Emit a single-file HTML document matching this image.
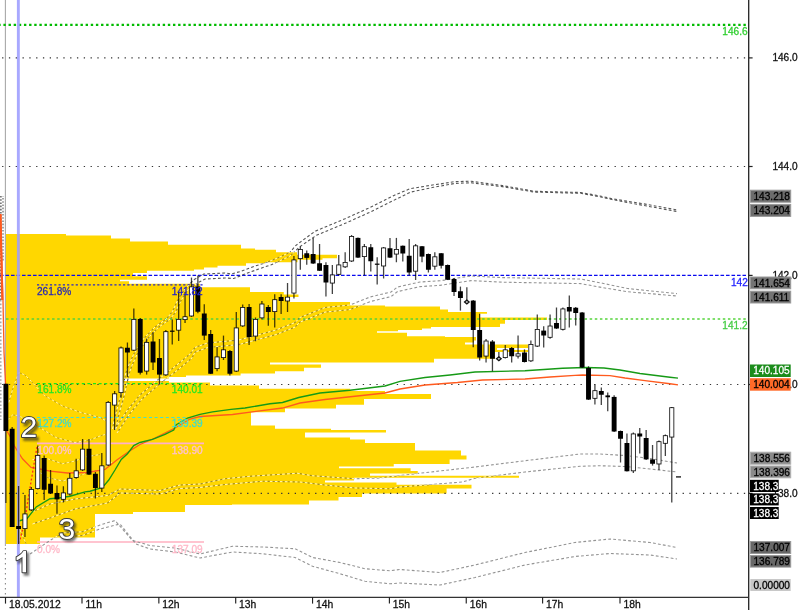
<!DOCTYPE html>
<html><head><meta charset="utf-8"><title>chart</title>
<style>
html,body{margin:0;padding:0;background:#fff;}
body{width:800px;height:610px;overflow:hidden;}
svg{display:block;will-change:transform;font-family:"Liberation Sans",sans-serif;font-size:10.1px;}
.big{font-size:30px;fill:#fff;stroke:#3c3c3c;stroke-width:1.9px;paint-order:stroke fill;stroke-linejoin:round;}
.bigs{font-size:30px;fill:#222;stroke:#222;stroke-width:2px;opacity:.6;filter:url(#bl);}
</style></head><body>
<svg width="800" height="610" viewBox="0 0 800 610">
<defs><filter id="bl" x="-30%" y="-30%" width="160%" height="160%"><feGaussianBlur stdDeviation="1.3"/></filter>
<clipPath id="cy"><path d="M6.00 234.00 L66.00 234.00 L66.00 235.50 L111.00 235.50 L111.00 238.50 L130.00 238.50 L130.00 241.50 L168.00 241.50 L168.00 244.75 L241.00 244.75 L241.00 248.50 L255.00 248.50 L255.00 249.75 L276.00 249.75 L276.00 252.25 L297.00 252.25 L297.00 254.75 L337.00 254.75 L337.00 258.25 L322.50 258.25 L322.50 259.75 L297.50 259.75 L297.50 262.25 L265.00 262.25 L265.00 263.25 L246.00 263.25 L246.00 265.75 L217.50 265.75 L217.50 267.60 L204.00 267.60 L204.00 269.50 L194.00 269.50 L194.00 270.75 L147.00 270.75 L147.00 273.00 L133.00 273.00 L133.00 276.25 L147.00 276.25 L147.00 279.75 L120.00 279.75 L120.00 281.25 L129.00 281.25 L129.00 283.75 L200.00 283.75 L200.00 287.25 L250.00 287.25 L250.00 292.10 L283.75 292.10 L283.75 294.40 L298.50 294.40 L298.50 296.90 L290.00 296.90 L290.00 301.90 L350.00 301.90 L350.00 305.50 L385.00 305.50 L385.00 306.50 L440.00 306.50 L440.00 309.40 L448.00 309.40 L448.00 311.90 L487.00 311.90 L487.00 313.75 L480.00 313.75 L480.00 317.50 L547.00 317.50 L547.00 320.00 L505.00 320.00 L505.00 323.75 L500.00 323.75 L500.00 326.90 L431.00 326.90 L431.00 328.50 L422.00 328.50 L422.00 330.00 L398.00 330.00 L398.00 331.25 L377.00 331.25 L377.00 332.75 L407.00 332.75 L407.00 336.25 L445.00 336.25 L445.00 337.00 L476.00 337.00 L476.00 340.60 L474.00 340.60 L474.00 342.50 L465.00 342.50 L465.00 344.40 L528.00 344.40 L528.00 348.00 L497.00 348.00 L497.00 350.00 L528.00 350.00 L528.00 352.00 L495.00 352.00 L495.00 358.75 L434.00 358.75 L434.00 362.40 L270.00 362.40 L270.00 364.40 L321.00 364.40 L321.00 367.75 L304.00 367.75 L304.00 371.25 L275.00 371.25 L275.00 373.50 L240.60 373.50 L240.60 375.60 L186.00 375.60 L186.00 376.90 L169.00 376.90 L169.00 378.50 L124.00 378.50 L124.00 381.10 L169.00 381.10 L169.00 382.50 L210.00 382.50 L210.00 385.60 L259.00 385.60 L259.00 388.75 L350.00 388.75 L350.00 391.00 L385.00 391.00 L385.00 394.00 L431.00 394.00 L431.00 399.00 L364.00 399.00 L364.00 404.75 L336.00 404.75 L336.00 408.50 L285.00 408.50 L285.00 412.25 L251.00 412.25 L251.00 425.50 L275.00 425.50 L275.00 428.75 L331.00 428.75 L331.00 430.00 L386.00 430.00 L386.00 432.50 L305.00 432.50 L305.00 437.50 L350.00 437.50 L350.00 439.50 L365.00 439.50 L365.00 443.00 L415.00 443.00 L415.00 450.50 L461.00 450.50 L461.00 455.60 L466.50 455.60 L466.50 459.40 L449.60 459.40 L449.60 464.00 L393.75 464.00 L393.75 466.50 L339.00 466.50 L339.00 468.20 L410.60 468.20 L410.60 471.00 L417.75 471.00 L417.75 473.40 L370.00 473.40 L370.00 475.70 L519.00 475.70 L519.00 477.75 L354.00 477.75 L354.00 480.50 L325.00 480.50 L325.00 482.50 L396.50 482.50 L396.50 484.75 L471.50 484.75 L471.50 488.50 L446.60 488.50 L446.60 493.50 L362.00 493.50 L362.00 497.00 L338.50 497.00 L338.50 500.50 L309.00 500.50 L309.00 504.50 L232.00 504.50 L232.00 505.00 L185.00 505.00 L185.00 512.00 L133.00 512.00 L133.00 514.00 L95.00 514.00 L95.00 537.50 L40.00 537.50 L40.00 544.00 L6.00 544.00Z"/></clipPath><mask id="my"><rect x="0" y="0" width="800" height="610" fill="#fff"/><path d="M6.00 234.00 L66.00 234.00 L66.00 235.50 L111.00 235.50 L111.00 238.50 L130.00 238.50 L130.00 241.50 L168.00 241.50 L168.00 244.75 L241.00 244.75 L241.00 248.50 L255.00 248.50 L255.00 249.75 L276.00 249.75 L276.00 252.25 L297.00 252.25 L297.00 254.75 L337.00 254.75 L337.00 258.25 L322.50 258.25 L322.50 259.75 L297.50 259.75 L297.50 262.25 L265.00 262.25 L265.00 263.25 L246.00 263.25 L246.00 265.75 L217.50 265.75 L217.50 267.60 L204.00 267.60 L204.00 269.50 L194.00 269.50 L194.00 270.75 L147.00 270.75 L147.00 273.00 L133.00 273.00 L133.00 276.25 L147.00 276.25 L147.00 279.75 L120.00 279.75 L120.00 281.25 L129.00 281.25 L129.00 283.75 L200.00 283.75 L200.00 287.25 L250.00 287.25 L250.00 292.10 L283.75 292.10 L283.75 294.40 L298.50 294.40 L298.50 296.90 L290.00 296.90 L290.00 301.90 L350.00 301.90 L350.00 305.50 L385.00 305.50 L385.00 306.50 L440.00 306.50 L440.00 309.40 L448.00 309.40 L448.00 311.90 L487.00 311.90 L487.00 313.75 L480.00 313.75 L480.00 317.50 L547.00 317.50 L547.00 320.00 L505.00 320.00 L505.00 323.75 L500.00 323.75 L500.00 326.90 L431.00 326.90 L431.00 328.50 L422.00 328.50 L422.00 330.00 L398.00 330.00 L398.00 331.25 L377.00 331.25 L377.00 332.75 L407.00 332.75 L407.00 336.25 L445.00 336.25 L445.00 337.00 L476.00 337.00 L476.00 340.60 L474.00 340.60 L474.00 342.50 L465.00 342.50 L465.00 344.40 L528.00 344.40 L528.00 348.00 L497.00 348.00 L497.00 350.00 L528.00 350.00 L528.00 352.00 L495.00 352.00 L495.00 358.75 L434.00 358.75 L434.00 362.40 L270.00 362.40 L270.00 364.40 L321.00 364.40 L321.00 367.75 L304.00 367.75 L304.00 371.25 L275.00 371.25 L275.00 373.50 L240.60 373.50 L240.60 375.60 L186.00 375.60 L186.00 376.90 L169.00 376.90 L169.00 378.50 L124.00 378.50 L124.00 381.10 L169.00 381.10 L169.00 382.50 L210.00 382.50 L210.00 385.60 L259.00 385.60 L259.00 388.75 L350.00 388.75 L350.00 391.00 L385.00 391.00 L385.00 394.00 L431.00 394.00 L431.00 399.00 L364.00 399.00 L364.00 404.75 L336.00 404.75 L336.00 408.50 L285.00 408.50 L285.00 412.25 L251.00 412.25 L251.00 425.50 L275.00 425.50 L275.00 428.75 L331.00 428.75 L331.00 430.00 L386.00 430.00 L386.00 432.50 L305.00 432.50 L305.00 437.50 L350.00 437.50 L350.00 439.50 L365.00 439.50 L365.00 443.00 L415.00 443.00 L415.00 450.50 L461.00 450.50 L461.00 455.60 L466.50 455.60 L466.50 459.40 L449.60 459.40 L449.60 464.00 L393.75 464.00 L393.75 466.50 L339.00 466.50 L339.00 468.20 L410.60 468.20 L410.60 471.00 L417.75 471.00 L417.75 473.40 L370.00 473.40 L370.00 475.70 L519.00 475.70 L519.00 477.75 L354.00 477.75 L354.00 480.50 L325.00 480.50 L325.00 482.50 L396.50 482.50 L396.50 484.75 L471.50 484.75 L471.50 488.50 L446.60 488.50 L446.60 493.50 L362.00 493.50 L362.00 497.00 L338.50 497.00 L338.50 500.50 L309.00 500.50 L309.00 504.50 L232.00 504.50 L232.00 505.00 L185.00 505.00 L185.00 512.00 L133.00 512.00 L133.00 514.00 L95.00 514.00 L95.00 537.50 L40.00 537.50 L40.00 544.00 L6.00 544.00Z" fill="#000"/></mask>
</defs>
<rect width="800" height="610" fill="#fff"/>
<path d="M6.00 234.00 L66.00 234.00 L66.00 235.50 L111.00 235.50 L111.00 238.50 L130.00 238.50 L130.00 241.50 L168.00 241.50 L168.00 244.75 L241.00 244.75 L241.00 248.50 L255.00 248.50 L255.00 249.75 L276.00 249.75 L276.00 252.25 L297.00 252.25 L297.00 254.75 L337.00 254.75 L337.00 258.25 L322.50 258.25 L322.50 259.75 L297.50 259.75 L297.50 262.25 L265.00 262.25 L265.00 263.25 L246.00 263.25 L246.00 265.75 L217.50 265.75 L217.50 267.60 L204.00 267.60 L204.00 269.50 L194.00 269.50 L194.00 270.75 L147.00 270.75 L147.00 273.00 L133.00 273.00 L133.00 276.25 L147.00 276.25 L147.00 279.75 L120.00 279.75 L120.00 281.25 L129.00 281.25 L129.00 283.75 L200.00 283.75 L200.00 287.25 L250.00 287.25 L250.00 292.10 L283.75 292.10 L283.75 294.40 L298.50 294.40 L298.50 296.90 L290.00 296.90 L290.00 301.90 L350.00 301.90 L350.00 305.50 L385.00 305.50 L385.00 306.50 L440.00 306.50 L440.00 309.40 L448.00 309.40 L448.00 311.90 L487.00 311.90 L487.00 313.75 L480.00 313.75 L480.00 317.50 L547.00 317.50 L547.00 320.00 L505.00 320.00 L505.00 323.75 L500.00 323.75 L500.00 326.90 L431.00 326.90 L431.00 328.50 L422.00 328.50 L422.00 330.00 L398.00 330.00 L398.00 331.25 L377.00 331.25 L377.00 332.75 L407.00 332.75 L407.00 336.25 L445.00 336.25 L445.00 337.00 L476.00 337.00 L476.00 340.60 L474.00 340.60 L474.00 342.50 L465.00 342.50 L465.00 344.40 L528.00 344.40 L528.00 348.00 L497.00 348.00 L497.00 350.00 L528.00 350.00 L528.00 352.00 L495.00 352.00 L495.00 358.75 L434.00 358.75 L434.00 362.40 L270.00 362.40 L270.00 364.40 L321.00 364.40 L321.00 367.75 L304.00 367.75 L304.00 371.25 L275.00 371.25 L275.00 373.50 L240.60 373.50 L240.60 375.60 L186.00 375.60 L186.00 376.90 L169.00 376.90 L169.00 378.50 L124.00 378.50 L124.00 381.10 L169.00 381.10 L169.00 382.50 L210.00 382.50 L210.00 385.60 L259.00 385.60 L259.00 388.75 L350.00 388.75 L350.00 391.00 L385.00 391.00 L385.00 394.00 L431.00 394.00 L431.00 399.00 L364.00 399.00 L364.00 404.75 L336.00 404.75 L336.00 408.50 L285.00 408.50 L285.00 412.25 L251.00 412.25 L251.00 425.50 L275.00 425.50 L275.00 428.75 L331.00 428.75 L331.00 430.00 L386.00 430.00 L386.00 432.50 L305.00 432.50 L305.00 437.50 L350.00 437.50 L350.00 439.50 L365.00 439.50 L365.00 443.00 L415.00 443.00 L415.00 450.50 L461.00 450.50 L461.00 455.60 L466.50 455.60 L466.50 459.40 L449.60 459.40 L449.60 464.00 L393.75 464.00 L393.75 466.50 L339.00 466.50 L339.00 468.20 L410.60 468.20 L410.60 471.00 L417.75 471.00 L417.75 473.40 L370.00 473.40 L370.00 475.70 L519.00 475.70 L519.00 477.75 L354.00 477.75 L354.00 480.50 L325.00 480.50 L325.00 482.50 L396.50 482.50 L396.50 484.75 L471.50 484.75 L471.50 488.50 L446.60 488.50 L446.60 493.50 L362.00 493.50 L362.00 497.00 L338.50 497.00 L338.50 500.50 L309.00 500.50 L309.00 504.50 L232.00 504.50 L232.00 505.00 L185.00 505.00 L185.00 512.00 L133.00 512.00 L133.00 514.00 L95.00 514.00 L95.00 537.50 L40.00 537.50 L40.00 544.00 L6.00 544.00Z" fill="#FFD700"/>
<line x1="5.4" y1="0" x2="5.4" y2="546" stroke="#a8a8a8" stroke-width="1.1"/><line x1="5.4" y1="548" x2="5.4" y2="597" stroke="#888" stroke-width="1.1" stroke-dasharray="1.5 3.5"/>
<line x1="0.9" y1="196" x2="0.9" y2="300" stroke="#555" stroke-width="1.4" stroke-dasharray="1.6 1.6"/><line x1="3.0" y1="196" x2="3.0" y2="262" stroke="#666" stroke-width="1.2" stroke-dasharray="1.6 1.6" stroke-dashoffset="1.2"/><line x1="0.8" y1="300" x2="0.8" y2="420" stroke="#999" stroke-width="1.3" stroke-dasharray="1.6 2"/>
<line x1="2.1" y1="57.9" x2="749" y2="57.9" stroke="#333" stroke-width="1.2" stroke-dasharray="1.3 5.505"/>
<line x1="2.1" y1="166.5" x2="749" y2="166.5" stroke="#333" stroke-width="1.2" stroke-dasharray="1.3 5.505"/>
<line x1="2.1" y1="384.5" x2="749" y2="384.5" stroke="#333" stroke-width="1.2" stroke-dasharray="1.3 5.505"/>
<line x1="2.1" y1="493.4" x2="749" y2="493.4" stroke="#333" stroke-width="1.2" stroke-dasharray="1.3 5.505"/>
<line x1="0" y1="24.9" x2="746" y2="24.9" stroke="#00bb00" stroke-width="2.3" stroke-dasharray="2.4 2.739" stroke-dashoffset="1.74"/>
<line x1="6" y1="319" x2="746" y2="319" stroke="#55d43c" stroke-width="1.5" stroke-dasharray="2.5 2.62"/>
<line x1="0" y1="275.4" x2="746" y2="275.4" stroke="#0a0aee" stroke-width="1.2" stroke-dasharray="3.6 1.9"/>
<line x1="37" y1="284.9" x2="203" y2="284.9" stroke="#2525c8" stroke-width="1.3" stroke-dasharray="2.2 2.1"/>
<line x1="37" y1="383.6" x2="203" y2="383.6" stroke="#18e818" stroke-width="1.3" stroke-dasharray="3 2.6"/>
<line x1="37" y1="417.5" x2="203" y2="417.5" stroke="#40e0d0" stroke-width="1.2" stroke-dasharray="3 2.6"/>
<line x1="37" y1="443.4" x2="204" y2="443.4" stroke="#ffb0cc" stroke-width="1.6"/>
<line x1="37" y1="542" x2="204" y2="542" stroke="#ffb0c0" stroke-width="1.6"/>
<g mask="url(#my)"><path d="M112.50 429.00 L115.00 416.50 L121.00 395.00 L126.00 372.75 L128.75 365.00 L133.75 354.00 L143.75 338.50 L155.00 327.00 L167.00 318.40 L172.50 311.40 L177.75 300.00 L184.00 290.00 L193.75 279.75 L203.75 274.00 L225.00 273.00 L231.00 274.00 L240.00 271.60 L255.00 266.00 L265.00 263.00 L277.50 258.00 L290.00 252.25 L296.00 245.30 L315.00 231.30 L345.00 218.75 L370.00 207.50 L395.00 195.00 L410.00 188.75 L432.50 185.00 L440.00 184.00 L455.00 181.60 L471.00 181.25 L502.50 185.60 L534.00 191.25 L580.60 192.50 L600.00 196.00 L612.00 198.75 L643.00 203.75 L677.00 209.90" fill="none" stroke="#555" stroke-width="1.1" stroke-dasharray="2.8 2.2" /><path d="M115.70 429.60 L118.20 417.10 L124.20 395.60 L129.20 373.35 L131.95 365.60 L136.95 354.60 L146.95 339.10 L158.20 327.60 L170.20 319.00 L175.70 312.00 L180.95 300.60 L187.20 290.60 L198.75 282.25 L205.00 279.00 L225.00 278.00 L233.75 278.50 L246.25 273.50 L258.75 269.00 L271.25 264.75 L283.75 259.00 L290.00 256.00 L299.50 247.00 L316.50 235.30 L346.50 222.75 L371.50 211.50 L396.50 199.00 L410.80 192.08 L433.30 187.33 L440.80 186.00 L455.00 183.38 L471.00 182.78 L502.50 186.66 L534.00 192.05 L580.60 193.30 L600.00 196.80 L612.00 199.55 L643.00 205.35 L677.00 211.50" fill="none" stroke="#555" stroke-width="1.1" stroke-dasharray="2.8 2.2" /><path d="M115.00 429.00 L127.50 410.00 L140.00 395.00 L158.75 379.00 L175.00 366.50 L190.00 354.00 L195.00 347.50 L207.50 343.00 L238.75 340.00 L257.50 335.00 L276.00 330.00 L295.00 322.50 L300.00 317.50 L325.00 307.50 L350.00 305.00 L370.00 297.00 L391.00 292.00 L397.50 287.00 L420.00 282.00 L440.00 280.75 L471.00 276.00 L502.50 277.60 L580.60 279.00 L602.50 283.25 L627.50 288.50 L677.00 293.60" fill="none" stroke="#949494" stroke-width="1.1" stroke-dasharray="2.8 2.2" /><path d="M117.00 433.00 L129.50 414.00 L142.00 399.00 L160.75 383.00 L177.00 370.50 L192.00 358.00 L195.00 352.10 L207.50 347.60 L238.75 344.60 L257.50 339.60 L276.00 334.60 L295.00 327.10 L300.00 322.10 L325.00 312.10 L350.00 309.60 L370.00 301.60 L391.00 296.60 L397.50 291.60 L420.00 286.60 L440.00 285.35 L471.00 280.60 L502.50 282.20 L580.60 283.60 L602.50 287.60 L627.50 291.70 L677.00 296.00" fill="none" stroke="#949494" stroke-width="1.1" stroke-dasharray="2.8 2.2" /><path d="M32.50 511.75 L50.00 504.00 L75.00 499.00 L107.50 495.50 L120.00 489.00 L160.00 490.50 L180.00 485.00 L200.00 484.00 L225.00 478.75 L250.00 476.25 L297.50 473.25 L312.50 475.75 L355.00 478.75 L380.00 478.00 L400.00 475.50 L475.00 467.00 L525.00 460.75 L580.00 454.00 L600.00 454.00 L625.00 455.50 L650.00 458.50 L677.00 463.00" fill="none" stroke="#949494" stroke-width="1.1" stroke-dasharray="2.8 2.2" /><path d="M32.50 524.00 L50.00 518.00 L75.00 509.00 L107.50 503.00 L120.00 493.00 L160.00 494.00 L180.00 488.50 L200.00 487.50 L225.00 484.50 L262.50 481.25 L300.00 482.00 L325.00 485.00 L355.00 488.00 L390.00 488.75 L400.00 487.00 L462.50 482.00 L475.00 478.25 L525.00 472.00 L580.00 466.25 L600.00 465.75 L625.00 466.50 L650.00 469.00 L677.00 472.00" fill="none" stroke="#949494" stroke-width="1.1" stroke-dasharray="2.8 2.2" /><path d="M30.00 554.00 L50.00 540.50 L62.50 533.00 L82.50 531.75 L100.00 525.00 L115.00 520.50 L132.50 540.50 L150.00 545.50 L175.00 548.00 L200.00 554.00 L232.50 546.25 L262.50 547.00 L295.00 548.75 L312.50 557.50 L340.00 562.50 L365.00 568.75 L390.00 570.75 L400.00 569.50 L440.00 572.50 L475.00 565.00 L525.00 552.50 L575.00 542.50 L610.00 539.00 L650.00 542.50 L677.00 547.50" fill="none" stroke="#949494" stroke-width="1.1" stroke-dasharray="2.8 2.2" /><path d="M62.50 537.00 L82.50 535.50 L100.00 529.00 L120.00 524.00 L136.00 544.00 L150.00 549.00 L175.00 552.00 L200.00 558.00 L232.50 552.00 L262.50 553.75 L295.00 557.50 L312.50 566.25 L340.00 573.75 L365.00 581.25 L390.00 583.75 L400.00 583.00 L440.00 585.00 L475.00 577.50 L525.00 565.00 L575.00 556.50 L610.00 553.50 L650.00 555.00 L677.00 559.00" fill="none" stroke="#949494" stroke-width="1.1" stroke-dasharray="2.8 2.2" /></g>
<g clip-path="url(#cy)"><path d="M112.50 429.00 L115.00 416.50 L121.00 395.00 L126.00 372.75 L128.75 365.00 L133.75 354.00 L143.75 338.50 L155.00 327.00 L167.00 318.40 L172.50 311.40 L177.75 300.00 L184.00 290.00 L193.75 279.75 L203.75 274.00 L225.00 273.00 L231.00 274.00 L240.00 271.60 L255.00 266.00 L265.00 263.00 L277.50 258.00 L290.00 252.25 L296.00 245.30 L315.00 231.30 L345.00 218.75 L370.00 207.50 L395.00 195.00 L410.00 188.75 L432.50 185.00 L440.00 184.00 L455.00 181.60 L471.00 181.25 L502.50 185.60 L534.00 191.25 L580.60 192.50 L600.00 196.00 L612.00 198.75 L643.00 203.75 L677.00 209.90" fill="none" stroke="#ffffff" stroke-width="1.0" stroke-dasharray="2.8 2.2" stroke-opacity="0.72" /><path d="M112.50 429.00 L115.00 416.50 L121.00 395.00 L126.00 372.75 L128.75 365.00 L133.75 354.00 L143.75 338.50 L155.00 327.00 L167.00 318.40 L172.50 311.40 L177.75 300.00 L184.00 290.00 L193.75 279.75 L203.75 274.00 L225.00 273.00 L231.00 274.00 L240.00 271.60 L255.00 266.00 L265.00 263.00 L277.50 258.00 L290.00 252.25 L296.00 245.30 L315.00 231.30 L345.00 218.75 L370.00 207.50 L395.00 195.00 L410.00 188.75 L432.50 185.00 L440.00 184.00 L455.00 181.60 L471.00 181.25 L502.50 185.60 L534.00 191.25 L580.60 192.50 L600.00 196.00 L612.00 198.75 L643.00 203.75 L677.00 209.90" fill="none" stroke="#444" stroke-width="1.1" stroke-dasharray="2.2 2.8" stroke-opacity="0.5" stroke-dashoffset="-2.8"/><path d="M115.70 429.60 L118.20 417.10 L124.20 395.60 L129.20 373.35 L131.95 365.60 L136.95 354.60 L146.95 339.10 L158.20 327.60 L170.20 319.00 L175.70 312.00 L180.95 300.60 L187.20 290.60 L198.75 282.25 L205.00 279.00 L225.00 278.00 L233.75 278.50 L246.25 273.50 L258.75 269.00 L271.25 264.75 L283.75 259.00 L290.00 256.00 L299.50 247.00 L316.50 235.30 L346.50 222.75 L371.50 211.50 L396.50 199.00 L410.80 192.08 L433.30 187.33 L440.80 186.00 L455.00 183.38 L471.00 182.78 L502.50 186.66 L534.00 192.05 L580.60 193.30 L600.00 196.80 L612.00 199.55 L643.00 205.35 L677.00 211.50" fill="none" stroke="#ffffff" stroke-width="1.0" stroke-dasharray="2.8 2.2" stroke-opacity="0.72" /><path d="M115.70 429.60 L118.20 417.10 L124.20 395.60 L129.20 373.35 L131.95 365.60 L136.95 354.60 L146.95 339.10 L158.20 327.60 L170.20 319.00 L175.70 312.00 L180.95 300.60 L187.20 290.60 L198.75 282.25 L205.00 279.00 L225.00 278.00 L233.75 278.50 L246.25 273.50 L258.75 269.00 L271.25 264.75 L283.75 259.00 L290.00 256.00 L299.50 247.00 L316.50 235.30 L346.50 222.75 L371.50 211.50 L396.50 199.00 L410.80 192.08 L433.30 187.33 L440.80 186.00 L455.00 183.38 L471.00 182.78 L502.50 186.66 L534.00 192.05 L580.60 193.30 L600.00 196.80 L612.00 199.55 L643.00 205.35 L677.00 211.50" fill="none" stroke="#444" stroke-width="1.1" stroke-dasharray="2.2 2.8" stroke-opacity="0.5" stroke-dashoffset="-2.8"/><path d="M115.00 429.00 L127.50 410.00 L140.00 395.00 L158.75 379.00 L175.00 366.50 L190.00 354.00 L195.00 347.50 L207.50 343.00 L238.75 340.00 L257.50 335.00 L276.00 330.00 L295.00 322.50 L300.00 317.50 L325.00 307.50 L350.00 305.00 L370.00 297.00 L391.00 292.00 L397.50 287.00 L420.00 282.00 L440.00 280.75 L471.00 276.00 L502.50 277.60 L580.60 279.00 L602.50 283.25 L627.50 288.50 L677.00 293.60" fill="none" stroke="#ffffff" stroke-width="1.0" stroke-dasharray="2.8 2.2" stroke-opacity="0.72" /><path d="M115.00 429.00 L127.50 410.00 L140.00 395.00 L158.75 379.00 L175.00 366.50 L190.00 354.00 L195.00 347.50 L207.50 343.00 L238.75 340.00 L257.50 335.00 L276.00 330.00 L295.00 322.50 L300.00 317.50 L325.00 307.50 L350.00 305.00 L370.00 297.00 L391.00 292.00 L397.50 287.00 L420.00 282.00 L440.00 280.75 L471.00 276.00 L502.50 277.60 L580.60 279.00 L602.50 283.25 L627.50 288.50 L677.00 293.60" fill="none" stroke="#444" stroke-width="1.1" stroke-dasharray="2.2 2.8" stroke-opacity="0.5" stroke-dashoffset="-2.8"/><path d="M117.00 433.00 L129.50 414.00 L142.00 399.00 L160.75 383.00 L177.00 370.50 L192.00 358.00 L195.00 352.10 L207.50 347.60 L238.75 344.60 L257.50 339.60 L276.00 334.60 L295.00 327.10 L300.00 322.10 L325.00 312.10 L350.00 309.60 L370.00 301.60 L391.00 296.60 L397.50 291.60 L420.00 286.60 L440.00 285.35 L471.00 280.60 L502.50 282.20 L580.60 283.60 L602.50 287.60 L627.50 291.70 L677.00 296.00" fill="none" stroke="#ffffff" stroke-width="1.0" stroke-dasharray="2.8 2.2" stroke-opacity="0.72" /><path d="M117.00 433.00 L129.50 414.00 L142.00 399.00 L160.75 383.00 L177.00 370.50 L192.00 358.00 L195.00 352.10 L207.50 347.60 L238.75 344.60 L257.50 339.60 L276.00 334.60 L295.00 327.10 L300.00 322.10 L325.00 312.10 L350.00 309.60 L370.00 301.60 L391.00 296.60 L397.50 291.60 L420.00 286.60 L440.00 285.35 L471.00 280.60 L502.50 282.20 L580.60 283.60 L602.50 287.60 L627.50 291.70 L677.00 296.00" fill="none" stroke="#444" stroke-width="1.1" stroke-dasharray="2.2 2.8" stroke-opacity="0.5" stroke-dashoffset="-2.8"/><path d="M32.50 511.75 L50.00 504.00 L75.00 499.00 L107.50 495.50 L120.00 489.00 L160.00 490.50 L180.00 485.00 L200.00 484.00 L225.00 478.75 L250.00 476.25 L297.50 473.25 L312.50 475.75 L355.00 478.75 L380.00 478.00 L400.00 475.50 L475.00 467.00 L525.00 460.75 L580.00 454.00 L600.00 454.00 L625.00 455.50 L650.00 458.50 L677.00 463.00" fill="none" stroke="#ffffff" stroke-width="1.0" stroke-dasharray="2.8 2.2" stroke-opacity="0.72" /><path d="M32.50 511.75 L50.00 504.00 L75.00 499.00 L107.50 495.50 L120.00 489.00 L160.00 490.50 L180.00 485.00 L200.00 484.00 L225.00 478.75 L250.00 476.25 L297.50 473.25 L312.50 475.75 L355.00 478.75 L380.00 478.00 L400.00 475.50 L475.00 467.00 L525.00 460.75 L580.00 454.00 L600.00 454.00 L625.00 455.50 L650.00 458.50 L677.00 463.00" fill="none" stroke="#444" stroke-width="1.1" stroke-dasharray="2.2 2.8" stroke-opacity="0.5" stroke-dashoffset="-2.8"/><path d="M32.50 524.00 L50.00 518.00 L75.00 509.00 L107.50 503.00 L120.00 493.00 L160.00 494.00 L180.00 488.50 L200.00 487.50 L225.00 484.50 L262.50 481.25 L300.00 482.00 L325.00 485.00 L355.00 488.00 L390.00 488.75 L400.00 487.00 L462.50 482.00 L475.00 478.25 L525.00 472.00 L580.00 466.25 L600.00 465.75 L625.00 466.50 L650.00 469.00 L677.00 472.00" fill="none" stroke="#ffffff" stroke-width="1.0" stroke-dasharray="2.8 2.2" stroke-opacity="0.72" /><path d="M32.50 524.00 L50.00 518.00 L75.00 509.00 L107.50 503.00 L120.00 493.00 L160.00 494.00 L180.00 488.50 L200.00 487.50 L225.00 484.50 L262.50 481.25 L300.00 482.00 L325.00 485.00 L355.00 488.00 L390.00 488.75 L400.00 487.00 L462.50 482.00 L475.00 478.25 L525.00 472.00 L580.00 466.25 L600.00 465.75 L625.00 466.50 L650.00 469.00 L677.00 472.00" fill="none" stroke="#444" stroke-width="1.1" stroke-dasharray="2.2 2.8" stroke-opacity="0.5" stroke-dashoffset="-2.8"/><path d="M30.00 554.00 L50.00 540.50 L62.50 533.00 L82.50 531.75 L100.00 525.00 L115.00 520.50 L132.50 540.50 L150.00 545.50 L175.00 548.00 L200.00 554.00 L232.50 546.25 L262.50 547.00 L295.00 548.75 L312.50 557.50 L340.00 562.50 L365.00 568.75 L390.00 570.75 L400.00 569.50 L440.00 572.50 L475.00 565.00 L525.00 552.50 L575.00 542.50 L610.00 539.00 L650.00 542.50 L677.00 547.50" fill="none" stroke="#ffffff" stroke-width="1.0" stroke-dasharray="2.8 2.2" stroke-opacity="0.72" /><path d="M30.00 554.00 L50.00 540.50 L62.50 533.00 L82.50 531.75 L100.00 525.00 L115.00 520.50 L132.50 540.50 L150.00 545.50 L175.00 548.00 L200.00 554.00 L232.50 546.25 L262.50 547.00 L295.00 548.75 L312.50 557.50 L340.00 562.50 L365.00 568.75 L390.00 570.75 L400.00 569.50 L440.00 572.50 L475.00 565.00 L525.00 552.50 L575.00 542.50 L610.00 539.00 L650.00 542.50 L677.00 547.50" fill="none" stroke="#444" stroke-width="1.1" stroke-dasharray="2.2 2.8" stroke-opacity="0.5" stroke-dashoffset="-2.8"/><path d="M62.50 537.00 L82.50 535.50 L100.00 529.00 L120.00 524.00 L136.00 544.00 L150.00 549.00 L175.00 552.00 L200.00 558.00 L232.50 552.00 L262.50 553.75 L295.00 557.50 L312.50 566.25 L340.00 573.75 L365.00 581.25 L390.00 583.75 L400.00 583.00 L440.00 585.00 L475.00 577.50 L525.00 565.00 L575.00 556.50 L610.00 553.50 L650.00 555.00 L677.00 559.00" fill="none" stroke="#ffffff" stroke-width="1.0" stroke-dasharray="2.8 2.2" stroke-opacity="0.72" /><path d="M62.50 537.00 L82.50 535.50 L100.00 529.00 L120.00 524.00 L136.00 544.00 L150.00 549.00 L175.00 552.00 L200.00 558.00 L232.50 552.00 L262.50 553.75 L295.00 557.50 L312.50 566.25 L340.00 573.75 L365.00 581.25 L390.00 583.75 L400.00 583.00 L440.00 585.00 L475.00 577.50 L525.00 565.00 L575.00 556.50 L610.00 553.50 L650.00 555.00 L677.00 559.00" fill="none" stroke="#444" stroke-width="1.1" stroke-dasharray="2.2 2.8" stroke-opacity="0.5" stroke-dashoffset="-2.8"/><path d="M8.75 402.50 L13.00 388.00 L18.75 372.50 L25.00 375.00 L31.00 381.00 L43.75 395.00 L62.50 406.00 L81.00 412.50 L100.00 417.50 L112.00 424.00" fill="none" stroke="#ffffff" stroke-width="1.0" stroke-dasharray="2.8 2.2" stroke-opacity="0.6" /><path d="M8.75 402.50 L13.00 388.00 L18.75 372.50 L25.00 375.00 L31.00 381.00 L43.75 395.00 L62.50 406.00 L81.00 412.50 L100.00 417.50 L112.00 424.00" fill="none" stroke="#444" stroke-width="1.0" stroke-dasharray="2.2 2.8" stroke-opacity="0.35" stroke-dashoffset="-2.8"/><path d="M7.50 420.00 L12.50 415.00 L18.75 415.60 L31.00 422.50 L43.75 430.00 L56.00 437.50 L75.00 442.50 L90.00 440.00 L100.00 436.00 L110.00 433.00" fill="none" stroke="#ffffff" stroke-width="1.0" stroke-dasharray="2.8 2.2" stroke-opacity="0.6" /><path d="M7.50 420.00 L12.50 415.00 L18.75 415.60 L31.00 422.50 L43.75 430.00 L56.00 437.50 L75.00 442.50 L90.00 440.00 L100.00 436.00 L110.00 433.00" fill="none" stroke="#444" stroke-width="1.0" stroke-dasharray="2.2 2.8" stroke-opacity="0.35" stroke-dashoffset="-2.8"/><path d="M20.00 530.00 L28.00 548.00 L38.00 556.00 L50.00 545.00" fill="none" stroke="#ffffff" stroke-width="1.0" stroke-dasharray="2.8 2.2" stroke-opacity="0.6" /><path d="M20.00 530.00 L28.00 548.00 L38.00 556.00 L50.00 545.00" fill="none" stroke="#444" stroke-width="1.0" stroke-dasharray="2.2 2.8" stroke-opacity="0.35" stroke-dashoffset="-2.8"/><path d="M32.50 459.50 L47.50 458.75 L62.50 463.75 L75.00 461.00 L85.00 457.00 L100.00 454.50" fill="none" stroke="#ffffff" stroke-width="1.0" stroke-dasharray="2.8 2.2" stroke-opacity="0.6" /><path d="M32.50 459.50 L47.50 458.75 L62.50 463.75 L75.00 461.00 L85.00 457.00 L100.00 454.50" fill="none" stroke="#444" stroke-width="1.0" stroke-dasharray="2.2 2.8" stroke-opacity="0.35" stroke-dashoffset="-2.8"/><path d="M36.00 470.00 L47.50 477.50 L62.50 481.00 L75.00 477.50 L87.50 472.50 L100.00 470.00 L112.00 462.00" fill="none" stroke="#ffffff" stroke-width="1.0" stroke-dasharray="2.8 2.2" stroke-opacity="0.6" /><path d="M36.00 470.00 L47.50 477.50 L62.50 481.00 L75.00 477.50 L87.50 472.50 L100.00 470.00 L112.00 462.00" fill="none" stroke="#444" stroke-width="1.0" stroke-dasharray="2.2 2.8" stroke-opacity="0.35" stroke-dashoffset="-2.8"/></g>
<path d="M0.60 214.00 L1.20 250.00 L2.30 300.00" fill="none" stroke="#ff5a1e" stroke-width="2.2" />
<path d="M0.00 214.00 L1.50 250.00 L3.00 300.00 L4.00 352.00 L5.50 383.00 L7.00 431.00 L11.00 438.00 L14.40 446.00 L17.50 451.00 L22.50 458.75 L31.00 467.50 L37.50 468.50 L50.00 471.20 L67.50 473.00 L87.50 472.50 L105.00 469.50 L117.50 459.50 L130.00 450.75 L140.00 444.50 L155.00 438.00 L175.00 428.00 L190.00 419.00 L200.00 416.50 L232.50 414.50 L282.50 408.00 L300.00 403.00 L325.00 399.50 L385.00 393.00 L400.00 389.00 L425.00 385.00 L457.50 382.50 L482.50 380.00 L525.00 379.00 L550.00 377.00 L575.00 375.30 L582.50 375.00 L610.00 375.60 L625.00 378.00 L645.00 380.60 L670.00 383.75 L678.00 384.80" fill="none" stroke="#ff5a1e" stroke-width="1.3" />
<path d="M18.75 521.00 L27.00 518.75 L36.25 506.90 L50.00 498.75 L58.75 498.00 L70.00 496.25 L85.00 491.90 L90.00 491.25 L102.50 487.50 L108.75 480.00 L115.00 470.00 L121.25 459.40 L127.50 453.75 L133.75 445.60 L140.00 442.50 L152.50 439.40 L165.00 434.40 L173.75 430.00 L176.00 425.00 L187.50 418.00 L200.00 414.40 L212.50 411.90 L231.00 409.40 L245.00 408.00 L270.00 403.75 L282.50 402.50 L298.75 397.50 L320.00 393.00 L350.00 390.25 L385.00 386.00 L400.00 381.30 L425.00 377.50 L450.00 375.00 L475.00 372.00 L525.00 370.75 L562.50 368.25 L585.00 367.50 L604.00 368.00 L620.00 370.00 L640.00 373.50 L670.00 377.25 L678.00 378.20" fill="none" stroke="#169a16" stroke-width="1.35" />
<path d="M37.00 447.00 L33.00 470.00 L28.00 500.00 L25.00 520.00 L19.00 544.00" fill="none" stroke="#ff2a1a" stroke-width="1.3" stroke-dasharray="2 2" />
<rect x="16.9" y="0" width="2.9" height="597" fill="#9c9cff" fill-opacity="0.88"/>
<line x1="5.90" y1="383.75" x2="5.90" y2="503.00" stroke="#000" stroke-opacity="0.74" stroke-width="1.3"/>
<rect x="3.45" y="383.75" width="4.90" height="47.25" fill="#000"/>
<line x1="12.15" y1="427.00" x2="12.15" y2="527.00" stroke="#000" stroke-opacity="0.74" stroke-width="1.3"/>
<rect x="9.70" y="428.75" width="4.90" height="98.25" fill="#000"/>
<line x1="18.56" y1="486.00" x2="18.56" y2="544.00" stroke="#000" stroke-opacity="0.74" stroke-width="1.3"/>
<rect x="16.11" y="526.00" width="4.90" height="3.00" fill="#000"/>
<line x1="24.96" y1="495.00" x2="24.96" y2="537.00" stroke="#000" stroke-opacity="0.74" stroke-width="1.3"/>
<rect x="22.46" y="513.50" width="5.00" height="15.50" fill="#111"/>
<rect x="23.31" y="514.35" width="3.30" height="13.80" fill="#fff"/>
<line x1="31.37" y1="487.00" x2="31.37" y2="511.00" stroke="#000" stroke-opacity="0.74" stroke-width="1.3"/>
<rect x="28.87" y="489.00" width="5.00" height="21.30" fill="#111"/>
<rect x="29.72" y="489.85" width="3.30" height="19.60" fill="#fff"/>
<line x1="37.77" y1="445.60" x2="37.77" y2="489.50" stroke="#000" stroke-opacity="0.74" stroke-width="1.3"/>
<rect x="35.27" y="455.00" width="5.00" height="34.00" fill="#111"/>
<rect x="36.12" y="455.85" width="3.30" height="32.30" fill="#fff"/>
<line x1="44.17" y1="455.60" x2="44.17" y2="500.00" stroke="#000" stroke-opacity="0.74" stroke-width="1.3"/>
<rect x="41.72" y="458.00" width="4.90" height="31.75" fill="#000"/>
<line x1="50.58" y1="470.00" x2="50.58" y2="494.00" stroke="#000" stroke-opacity="0.74" stroke-width="1.3"/>
<rect x="48.13" y="483.75" width="4.90" height="9.75" fill="#000"/>
<line x1="56.98" y1="485.60" x2="56.98" y2="513.75" stroke="#000" stroke-opacity="0.74" stroke-width="1.3"/>
<rect x="54.53" y="493.00" width="4.90" height="6.40" fill="#000"/>
<line x1="63.39" y1="486.25" x2="63.39" y2="502.50" stroke="#000" stroke-opacity="0.74" stroke-width="1.3"/>
<rect x="60.89" y="492.50" width="5.00" height="7.25" fill="#111"/>
<rect x="61.74" y="493.35" width="3.30" height="5.55" fill="#fff"/>
<line x1="69.79" y1="473.00" x2="69.79" y2="495.60" stroke="#000" stroke-opacity="0.74" stroke-width="1.3"/>
<rect x="67.29" y="477.90" width="5.00" height="16.50" fill="#111"/>
<rect x="68.14" y="478.75" width="3.30" height="14.80" fill="#fff"/>
<line x1="76.19" y1="458.75" x2="76.19" y2="478.75" stroke="#000" stroke-opacity="0.74" stroke-width="1.3"/>
<rect x="73.69" y="470.40" width="5.00" height="7.50" fill="#111"/>
<rect x="74.54" y="471.25" width="3.30" height="5.80" fill="#fff"/>
<line x1="82.60" y1="439.00" x2="82.60" y2="471.00" stroke="#000" stroke-opacity="0.74" stroke-width="1.3"/>
<rect x="80.10" y="448.75" width="5.00" height="21.50" fill="#111"/>
<rect x="80.95" y="449.60" width="3.30" height="19.80" fill="#fff"/>
<line x1="89.00" y1="439.00" x2="89.00" y2="475.00" stroke="#000" stroke-opacity="0.74" stroke-width="1.3"/>
<rect x="86.55" y="448.75" width="4.90" height="25.85" fill="#000"/>
<line x1="95.41" y1="472.00" x2="95.41" y2="498.50" stroke="#000" stroke-opacity="0.74" stroke-width="1.3"/>
<rect x="92.96" y="473.75" width="4.90" height="14.25" fill="#000"/>
<line x1="101.81" y1="453.00" x2="101.81" y2="492.00" stroke="#000" stroke-opacity="0.74" stroke-width="1.3"/>
<rect x="99.31" y="465.40" width="5.00" height="23.10" fill="#111"/>
<rect x="100.16" y="466.25" width="3.30" height="21.40" fill="#fff"/>
<line x1="108.21" y1="401.00" x2="108.21" y2="466.00" stroke="#000" stroke-opacity="0.74" stroke-width="1.3"/>
<rect x="105.71" y="402.00" width="5.00" height="63.40" fill="#111"/>
<rect x="106.56" y="402.85" width="3.30" height="61.70" fill="#fff"/>
<line x1="114.62" y1="391.00" x2="114.62" y2="430.00" stroke="#000" stroke-opacity="0.74" stroke-width="1.3"/>
<rect x="112.12" y="393.40" width="5.00" height="12.10" fill="#111"/>
<rect x="112.97" y="394.25" width="3.30" height="10.40" fill="#fff"/>
<line x1="121.02" y1="346.50" x2="121.02" y2="397.75" stroke="#000" stroke-opacity="0.74" stroke-width="1.3"/>
<rect x="118.52" y="347.50" width="5.00" height="45.50" fill="#111"/>
<rect x="119.37" y="348.35" width="3.30" height="43.80" fill="#fff"/>
<line x1="127.43" y1="342.50" x2="127.43" y2="377.00" stroke="#000" stroke-opacity="0.74" stroke-width="1.3"/>
<rect x="124.98" y="347.75" width="4.90" height="4.75" fill="#000"/>
<line x1="133.83" y1="308.50" x2="133.83" y2="351.00" stroke="#000" stroke-opacity="0.74" stroke-width="1.3"/>
<rect x="131.33" y="319.00" width="5.00" height="31.60" fill="#111"/>
<rect x="132.18" y="319.85" width="3.30" height="29.90" fill="#fff"/>
<line x1="140.23" y1="318.00" x2="140.23" y2="374.60" stroke="#000" stroke-opacity="0.74" stroke-width="1.3"/>
<rect x="137.78" y="319.00" width="4.90" height="53.75" fill="#000"/>
<line x1="146.64" y1="338.75" x2="146.64" y2="374.60" stroke="#000" stroke-opacity="0.74" stroke-width="1.3"/>
<rect x="144.14" y="342.00" width="5.00" height="29.50" fill="#111"/>
<rect x="144.99" y="342.85" width="3.30" height="27.80" fill="#fff"/>
<line x1="153.04" y1="332.00" x2="153.04" y2="370.00" stroke="#000" stroke-opacity="0.74" stroke-width="1.3"/>
<rect x="150.59" y="341.50" width="4.90" height="21.00" fill="#000"/>
<line x1="159.45" y1="339.00" x2="159.45" y2="384.00" stroke="#000" stroke-opacity="0.74" stroke-width="1.3"/>
<rect x="157.00" y="358.00" width="4.90" height="16.60" fill="#000"/>
<line x1="165.85" y1="330.00" x2="165.85" y2="376.00" stroke="#000" stroke-opacity="0.74" stroke-width="1.3"/>
<rect x="163.35" y="331.25" width="5.00" height="44.00" fill="#111"/>
<rect x="164.20" y="332.10" width="3.30" height="42.30" fill="#fff"/>
<line x1="172.25" y1="319.40" x2="172.25" y2="344.40" stroke="#000" stroke-opacity="0.74" stroke-width="1.3"/>
<rect x="169.95" y="330.60" width="4.60" height="1.20" fill="#000"/>
<line x1="178.66" y1="291.40" x2="178.66" y2="341.00" stroke="#000" stroke-opacity="0.74" stroke-width="1.3"/>
<rect x="176.16" y="319.00" width="5.00" height="11.60" fill="#111"/>
<rect x="177.01" y="319.85" width="3.30" height="9.90" fill="#fff"/>
<line x1="185.06" y1="292.00" x2="185.06" y2="323.00" stroke="#000" stroke-opacity="0.74" stroke-width="1.3"/>
<rect x="182.56" y="316.30" width="5.00" height="3.70" fill="#111"/>
<rect x="183.41" y="317.15" width="3.30" height="2.00" fill="#fff"/>
<line x1="191.47" y1="277.60" x2="191.47" y2="317.00" stroke="#000" stroke-opacity="0.74" stroke-width="1.3"/>
<rect x="188.97" y="286.40" width="5.00" height="30.00" fill="#111"/>
<rect x="189.82" y="287.25" width="3.30" height="28.30" fill="#fff"/>
<line x1="197.87" y1="275.50" x2="197.87" y2="313.25" stroke="#000" stroke-opacity="0.74" stroke-width="1.3"/>
<rect x="195.42" y="286.40" width="4.90" height="25.35" fill="#000"/>
<line x1="204.27" y1="304.25" x2="204.27" y2="340.00" stroke="#000" stroke-opacity="0.74" stroke-width="1.3"/>
<rect x="201.82" y="313.50" width="4.90" height="22.10" fill="#000"/>
<line x1="210.68" y1="330.00" x2="210.68" y2="374.00" stroke="#000" stroke-opacity="0.74" stroke-width="1.3"/>
<rect x="208.23" y="334.00" width="4.90" height="39.75" fill="#000"/>
<line x1="217.08" y1="347.00" x2="217.08" y2="371.25" stroke="#000" stroke-opacity="0.74" stroke-width="1.3"/>
<rect x="214.58" y="356.50" width="5.00" height="12.50" fill="#111"/>
<rect x="215.43" y="357.35" width="3.30" height="10.80" fill="#fff"/>
<line x1="223.49" y1="335.60" x2="223.49" y2="360.00" stroke="#000" stroke-opacity="0.74" stroke-width="1.3"/>
<rect x="220.99" y="349.40" width="5.00" height="8.60" fill="#111"/>
<rect x="221.84" y="350.25" width="3.30" height="6.90" fill="#fff"/>
<line x1="229.89" y1="350.00" x2="229.89" y2="375.60" stroke="#000" stroke-opacity="0.74" stroke-width="1.3"/>
<rect x="227.44" y="351.00" width="4.90" height="22.75" fill="#000"/>
<line x1="236.29" y1="312.00" x2="236.29" y2="372.00" stroke="#000" stroke-opacity="0.74" stroke-width="1.3"/>
<rect x="233.79" y="327.50" width="5.00" height="44.00" fill="#111"/>
<rect x="234.64" y="328.35" width="3.30" height="42.30" fill="#fff"/>
<line x1="242.70" y1="304.50" x2="242.70" y2="327.00" stroke="#000" stroke-opacity="0.74" stroke-width="1.3"/>
<rect x="240.20" y="307.00" width="5.00" height="19.30" fill="#111"/>
<rect x="241.05" y="307.85" width="3.30" height="17.60" fill="#fff"/>
<line x1="249.10" y1="304.00" x2="249.10" y2="345.00" stroke="#000" stroke-opacity="0.74" stroke-width="1.3"/>
<rect x="246.65" y="307.00" width="4.90" height="30.00" fill="#000"/>
<line x1="255.51" y1="317.50" x2="255.51" y2="341.25" stroke="#000" stroke-opacity="0.74" stroke-width="1.3"/>
<rect x="253.01" y="319.00" width="5.00" height="17.50" fill="#111"/>
<rect x="253.86" y="319.85" width="3.30" height="15.80" fill="#fff"/>
<line x1="261.91" y1="301.00" x2="261.91" y2="319.50" stroke="#000" stroke-opacity="0.74" stroke-width="1.3"/>
<rect x="259.41" y="303.60" width="5.00" height="14.65" fill="#111"/>
<rect x="260.26" y="304.45" width="3.30" height="12.95" fill="#fff"/>
<line x1="268.31" y1="305.00" x2="268.31" y2="325.75" stroke="#000" stroke-opacity="0.74" stroke-width="1.3"/>
<rect x="265.86" y="307.00" width="4.90" height="5.00" fill="#000"/>
<line x1="274.72" y1="294.25" x2="274.72" y2="327.60" stroke="#000" stroke-opacity="0.74" stroke-width="1.3"/>
<rect x="272.22" y="299.25" width="5.00" height="12.75" fill="#111"/>
<rect x="273.07" y="300.10" width="3.30" height="11.05" fill="#fff"/>
<line x1="281.12" y1="294.25" x2="281.12" y2="314.00" stroke="#000" stroke-opacity="0.74" stroke-width="1.3"/>
<rect x="278.67" y="297.00" width="4.90" height="4.00" fill="#000"/>
<line x1="287.53" y1="283.00" x2="287.53" y2="312.00" stroke="#000" stroke-opacity="0.74" stroke-width="1.3"/>
<rect x="285.03" y="296.75" width="5.00" height="4.65" fill="#111"/>
<rect x="285.88" y="297.60" width="3.30" height="2.95" fill="#fff"/>
<line x1="293.93" y1="256.00" x2="293.93" y2="298.50" stroke="#000" stroke-opacity="0.74" stroke-width="1.3"/>
<rect x="291.43" y="259.50" width="5.00" height="34.00" fill="#111"/>
<rect x="292.28" y="260.35" width="3.30" height="32.30" fill="#fff"/>
<line x1="300.33" y1="246.60" x2="300.33" y2="269.75" stroke="#000" stroke-opacity="0.74" stroke-width="1.3"/>
<rect x="297.83" y="249.00" width="5.00" height="10.00" fill="#111"/>
<rect x="298.68" y="249.85" width="3.30" height="8.30" fill="#fff"/>
<line x1="306.74" y1="250.40" x2="306.74" y2="264.75" stroke="#000" stroke-opacity="0.74" stroke-width="1.3"/>
<rect x="304.29" y="253.25" width="4.90" height="4.65" fill="#000"/>
<line x1="313.14" y1="237.90" x2="313.14" y2="264.00" stroke="#000" stroke-opacity="0.74" stroke-width="1.3"/>
<rect x="310.69" y="254.00" width="4.90" height="9.50" fill="#000"/>
<line x1="319.55" y1="244.00" x2="319.55" y2="271.00" stroke="#000" stroke-opacity="0.74" stroke-width="1.3"/>
<rect x="317.10" y="263.25" width="4.90" height="7.50" fill="#000"/>
<line x1="325.95" y1="262.25" x2="325.95" y2="296.60" stroke="#000" stroke-opacity="0.74" stroke-width="1.3"/>
<rect x="323.50" y="265.00" width="4.90" height="17.50" fill="#000"/>
<line x1="332.35" y1="265.00" x2="332.35" y2="294.00" stroke="#000" stroke-opacity="0.74" stroke-width="1.3"/>
<rect x="329.85" y="274.50" width="5.00" height="9.00" fill="#111"/>
<rect x="330.70" y="275.35" width="3.30" height="7.30" fill="#fff"/>
<line x1="338.76" y1="255.00" x2="338.76" y2="275.50" stroke="#000" stroke-opacity="0.74" stroke-width="1.3"/>
<rect x="336.26" y="264.50" width="5.00" height="10.25" fill="#111"/>
<rect x="337.11" y="265.35" width="3.30" height="8.55" fill="#fff"/>
<line x1="345.16" y1="252.25" x2="345.16" y2="268.00" stroke="#000" stroke-opacity="0.74" stroke-width="1.3"/>
<rect x="342.66" y="262.00" width="5.00" height="5.25" fill="#111"/>
<rect x="343.51" y="262.85" width="3.30" height="3.55" fill="#fff"/>
<line x1="351.57" y1="235.00" x2="351.57" y2="262.00" stroke="#000" stroke-opacity="0.74" stroke-width="1.3"/>
<rect x="349.07" y="236.00" width="5.00" height="25.40" fill="#111"/>
<rect x="349.92" y="236.85" width="3.30" height="23.70" fill="#fff"/>
<line x1="357.97" y1="237.50" x2="357.97" y2="258.00" stroke="#000" stroke-opacity="0.74" stroke-width="1.3"/>
<rect x="355.52" y="237.90" width="4.90" height="19.70" fill="#000"/>
<line x1="364.37" y1="244.00" x2="364.37" y2="275.40" stroke="#000" stroke-opacity="0.74" stroke-width="1.3"/>
<rect x="361.87" y="246.25" width="5.00" height="10.75" fill="#111"/>
<rect x="362.72" y="247.10" width="3.30" height="9.05" fill="#fff"/>
<line x1="370.78" y1="244.00" x2="370.78" y2="271.60" stroke="#000" stroke-opacity="0.74" stroke-width="1.3"/>
<rect x="368.33" y="247.25" width="4.90" height="14.00" fill="#000"/>
<line x1="377.18" y1="257.25" x2="377.18" y2="284.50" stroke="#000" stroke-opacity="0.74" stroke-width="1.3"/>
<rect x="374.88" y="263.60" width="4.60" height="1.20" fill="#000"/>
<line x1="383.59" y1="247.00" x2="383.59" y2="278.50" stroke="#000" stroke-opacity="0.74" stroke-width="1.3"/>
<rect x="381.09" y="247.50" width="5.00" height="18.90" fill="#111"/>
<rect x="381.94" y="248.35" width="3.30" height="17.20" fill="#fff"/>
<line x1="389.99" y1="237.90" x2="389.99" y2="258.00" stroke="#000" stroke-opacity="0.74" stroke-width="1.3"/>
<rect x="387.54" y="248.25" width="4.90" height="9.35" fill="#000"/>
<line x1="396.39" y1="237.90" x2="396.39" y2="262.25" stroke="#000" stroke-opacity="0.74" stroke-width="1.3"/>
<rect x="393.89" y="249.00" width="5.00" height="5.50" fill="#111"/>
<rect x="394.74" y="249.85" width="3.30" height="3.80" fill="#fff"/>
<line x1="402.80" y1="245.50" x2="402.80" y2="261.60" stroke="#000" stroke-opacity="0.74" stroke-width="1.3"/>
<rect x="400.35" y="245.75" width="4.90" height="7.75" fill="#000"/>
<line x1="409.20" y1="239.00" x2="409.20" y2="275.40" stroke="#000" stroke-opacity="0.74" stroke-width="1.3"/>
<rect x="406.75" y="255.75" width="4.90" height="16.75" fill="#000"/>
<line x1="415.61" y1="244.00" x2="415.61" y2="280.00" stroke="#000" stroke-opacity="0.74" stroke-width="1.3"/>
<rect x="413.11" y="245.40" width="5.00" height="26.20" fill="#111"/>
<rect x="413.96" y="246.25" width="3.30" height="24.50" fill="#fff"/>
<line x1="422.01" y1="246.00" x2="422.01" y2="262.25" stroke="#000" stroke-opacity="0.74" stroke-width="1.3"/>
<rect x="419.56" y="246.25" width="4.90" height="10.35" fill="#000"/>
<line x1="428.41" y1="253.50" x2="428.41" y2="272.50" stroke="#000" stroke-opacity="0.74" stroke-width="1.3"/>
<rect x="425.96" y="254.00" width="4.90" height="15.75" fill="#000"/>
<line x1="434.82" y1="252.25" x2="434.82" y2="269.75" stroke="#000" stroke-opacity="0.74" stroke-width="1.3"/>
<rect x="432.32" y="256.40" width="5.00" height="10.20" fill="#111"/>
<rect x="433.17" y="257.25" width="3.30" height="8.50" fill="#fff"/>
<line x1="441.22" y1="253.00" x2="441.22" y2="268.50" stroke="#000" stroke-opacity="0.74" stroke-width="1.3"/>
<rect x="438.77" y="253.25" width="4.90" height="12.50" fill="#000"/>
<line x1="447.63" y1="264.50" x2="447.63" y2="280.00" stroke="#000" stroke-opacity="0.74" stroke-width="1.3"/>
<rect x="445.18" y="265.00" width="4.90" height="14.75" fill="#000"/>
<line x1="454.03" y1="277.90" x2="454.03" y2="296.00" stroke="#000" stroke-opacity="0.74" stroke-width="1.3"/>
<rect x="451.58" y="279.00" width="4.90" height="13.00" fill="#000"/>
<line x1="460.43" y1="286.60" x2="460.43" y2="310.60" stroke="#000" stroke-opacity="0.74" stroke-width="1.3"/>
<rect x="457.98" y="291.25" width="4.90" height="6.75" fill="#000"/>
<line x1="466.84" y1="287.25" x2="466.84" y2="303.50" stroke="#000" stroke-opacity="0.74" stroke-width="1.3"/>
<path d="M464.54 302.00 l2.3 -2 l2.3 2 l-2.3 2z" fill="#ccc" stroke="#111" stroke-width="1.3"/>
<line x1="473.24" y1="300.00" x2="473.24" y2="347.25" stroke="#000" stroke-opacity="0.74" stroke-width="1.3"/>
<rect x="470.79" y="300.60" width="4.90" height="29.40" fill="#000"/>
<line x1="479.65" y1="313.75" x2="479.65" y2="360.60" stroke="#000" stroke-opacity="0.74" stroke-width="1.3"/>
<rect x="477.20" y="330.00" width="4.90" height="27.50" fill="#000"/>
<line x1="486.05" y1="339.00" x2="486.05" y2="362.50" stroke="#000" stroke-opacity="0.74" stroke-width="1.3"/>
<rect x="483.55" y="340.60" width="5.00" height="15.90" fill="#111"/>
<rect x="484.40" y="341.45" width="3.30" height="14.20" fill="#fff"/>
<line x1="492.45" y1="340.00" x2="492.45" y2="371.25" stroke="#000" stroke-opacity="0.74" stroke-width="1.3"/>
<rect x="490.00" y="341.50" width="4.90" height="17.25" fill="#000"/>
<line x1="498.86" y1="352.00" x2="498.86" y2="360.50" stroke="#000" stroke-opacity="0.74" stroke-width="1.3"/>
<path d="M496.56 358.75 l2.3 -2 l2.3 2 l-2.3 2z" fill="#ccc" stroke="#111" stroke-width="1.3"/>
<line x1="505.26" y1="345.00" x2="505.26" y2="358.50" stroke="#000" stroke-opacity="0.74" stroke-width="1.3"/>
<rect x="502.76" y="349.40" width="5.00" height="8.60" fill="#111"/>
<rect x="503.61" y="350.25" width="3.30" height="6.90" fill="#fff"/>
<line x1="511.67" y1="346.90" x2="511.67" y2="362.50" stroke="#000" stroke-opacity="0.74" stroke-width="1.3"/>
<rect x="509.22" y="348.00" width="4.90" height="8.25" fill="#000"/>
<line x1="518.07" y1="335.60" x2="518.07" y2="358.50" stroke="#000" stroke-opacity="0.74" stroke-width="1.3"/>
<rect x="515.57" y="353.40" width="5.00" height="3.10" fill="#111"/>
<rect x="516.42" y="354.25" width="3.30" height="1.40" fill="#fff"/>
<line x1="524.47" y1="349.40" x2="524.47" y2="362.50" stroke="#000" stroke-opacity="0.74" stroke-width="1.3"/>
<rect x="522.02" y="352.50" width="4.90" height="9.50" fill="#000"/>
<line x1="530.88" y1="340.60" x2="530.88" y2="362.00" stroke="#000" stroke-opacity="0.74" stroke-width="1.3"/>
<rect x="528.38" y="344.00" width="5.00" height="17.25" fill="#111"/>
<rect x="529.23" y="344.85" width="3.30" height="15.55" fill="#fff"/>
<line x1="537.28" y1="314.40" x2="537.28" y2="347.00" stroke="#000" stroke-opacity="0.74" stroke-width="1.3"/>
<rect x="534.78" y="329.00" width="5.00" height="17.50" fill="#111"/>
<rect x="535.63" y="329.85" width="3.30" height="15.80" fill="#fff"/>
<line x1="543.69" y1="326.25" x2="543.69" y2="347.50" stroke="#000" stroke-opacity="0.74" stroke-width="1.3"/>
<rect x="541.24" y="330.60" width="4.90" height="4.90" fill="#000"/>
<line x1="550.09" y1="314.40" x2="550.09" y2="338.75" stroke="#000" stroke-opacity="0.74" stroke-width="1.3"/>
<rect x="547.59" y="325.60" width="5.00" height="12.15" fill="#111"/>
<rect x="548.44" y="326.45" width="3.30" height="10.45" fill="#fff"/>
<line x1="556.49" y1="307.50" x2="556.49" y2="329.00" stroke="#000" stroke-opacity="0.74" stroke-width="1.3"/>
<rect x="554.04" y="323.00" width="4.90" height="5.50" fill="#000"/>
<line x1="562.90" y1="307.50" x2="562.90" y2="330.50" stroke="#000" stroke-opacity="0.74" stroke-width="1.3"/>
<rect x="560.40" y="308.50" width="5.00" height="21.25" fill="#111"/>
<rect x="561.25" y="309.35" width="3.30" height="19.55" fill="#fff"/>
<line x1="569.30" y1="295.60" x2="569.30" y2="327.50" stroke="#000" stroke-opacity="0.74" stroke-width="1.3"/>
<rect x="566.85" y="307.00" width="4.90" height="4.50" fill="#000"/>
<line x1="575.71" y1="307.00" x2="575.71" y2="325.60" stroke="#000" stroke-opacity="0.74" stroke-width="1.3"/>
<rect x="573.26" y="307.75" width="4.90" height="5.25" fill="#000"/>
<line x1="582.11" y1="312.00" x2="582.11" y2="368.00" stroke="#000" stroke-opacity="0.74" stroke-width="1.3"/>
<rect x="579.66" y="312.50" width="4.90" height="55.00" fill="#000"/>
<line x1="588.51" y1="366.25" x2="588.51" y2="400.00" stroke="#000" stroke-opacity="0.74" stroke-width="1.3"/>
<rect x="586.06" y="368.00" width="4.90" height="31.60" fill="#000"/>
<line x1="594.92" y1="384.40" x2="594.92" y2="404.40" stroke="#000" stroke-opacity="0.74" stroke-width="1.3"/>
<rect x="592.42" y="390.25" width="5.00" height="8.50" fill="#111"/>
<rect x="593.27" y="391.10" width="3.30" height="6.80" fill="#fff"/>
<line x1="601.32" y1="387.50" x2="601.32" y2="405.00" stroke="#000" stroke-opacity="0.74" stroke-width="1.3"/>
<rect x="598.87" y="391.00" width="4.90" height="3.75" fill="#000"/>
<line x1="607.73" y1="392.50" x2="607.73" y2="411.25" stroke="#000" stroke-opacity="0.74" stroke-width="1.3"/>
<rect x="605.43" y="395.40" width="4.60" height="1.85" fill="#000"/>
<line x1="614.13" y1="395.25" x2="614.13" y2="432.00" stroke="#000" stroke-opacity="0.74" stroke-width="1.3"/>
<rect x="611.68" y="396.90" width="4.90" height="34.60" fill="#000"/>
<line x1="620.53" y1="430.50" x2="620.53" y2="462.50" stroke="#000" stroke-opacity="0.74" stroke-width="1.3"/>
<rect x="618.08" y="431.00" width="4.90" height="7.75" fill="#000"/>
<line x1="626.94" y1="433.50" x2="626.94" y2="471.50" stroke="#000" stroke-opacity="0.74" stroke-width="1.3"/>
<rect x="624.49" y="443.00" width="4.90" height="28.25" fill="#000"/>
<line x1="633.34" y1="432.50" x2="633.34" y2="473.00" stroke="#000" stroke-opacity="0.74" stroke-width="1.3"/>
<rect x="630.84" y="433.50" width="5.00" height="37.75" fill="#111"/>
<rect x="631.69" y="434.35" width="3.30" height="36.05" fill="#fff"/>
<line x1="639.75" y1="428.00" x2="639.75" y2="453.50" stroke="#000" stroke-opacity="0.74" stroke-width="1.3"/>
<rect x="637.30" y="433.50" width="4.90" height="3.00" fill="#000"/>
<line x1="646.15" y1="430.00" x2="646.15" y2="460.00" stroke="#000" stroke-opacity="0.74" stroke-width="1.3"/>
<rect x="643.70" y="438.00" width="4.90" height="21.40" fill="#000"/>
<line x1="652.55" y1="445.00" x2="652.55" y2="465.60" stroke="#000" stroke-opacity="0.74" stroke-width="1.3"/>
<rect x="650.10" y="459.40" width="4.90" height="4.35" fill="#000"/>
<line x1="658.96" y1="440.50" x2="658.96" y2="470.00" stroke="#000" stroke-opacity="0.74" stroke-width="1.3"/>
<rect x="656.46" y="441.25" width="5.00" height="23.15" fill="#111"/>
<rect x="657.31" y="442.10" width="3.30" height="21.45" fill="#fff"/>
<line x1="665.36" y1="434.50" x2="665.36" y2="456.00" stroke="#000" stroke-opacity="0.74" stroke-width="1.3"/>
<rect x="662.86" y="435.25" width="5.00" height="8.50" fill="#111"/>
<rect x="663.71" y="436.10" width="3.30" height="6.80" fill="#fff"/>
<line x1="671.77" y1="406.90" x2="671.77" y2="502.50" stroke="#000" stroke-opacity="0.74" stroke-width="1.3"/>
<rect x="669.27" y="407.25" width="5.00" height="30.25" fill="#111"/>
<rect x="670.12" y="408.10" width="3.30" height="28.55" fill="#fff"/>
<rect x="676" y="476.2" width="5" height="1.4" fill="#222"/>
<line x1="748.7" y1="0" x2="748.7" y2="610" stroke="#222" stroke-width="1.3"/>
<line x1="0" y1="597.4" x2="749" y2="597.4" stroke="#333" stroke-width="1.2"/>
<line x1="749" y1="57.9" x2="752.6" y2="57.9" stroke="#222" stroke-width="1.2"/>
<line x1="749" y1="166.5" x2="752.6" y2="166.5" stroke="#222" stroke-width="1.2"/>
<line x1="749" y1="275.4" x2="752.6" y2="275.4" stroke="#222" stroke-width="1.2"/>
<line x1="749" y1="384.5" x2="752.6" y2="384.5" stroke="#222" stroke-width="1.2"/>
<line x1="749" y1="493.4" x2="752.6" y2="493.4" stroke="#222" stroke-width="1.2"/>
<text x="772.4" y="61.0" fill="#111" stroke="#111" stroke-width="0.28">146.0</text>
<text x="772.4" y="169.6" fill="#111" stroke="#111" stroke-width="0.28">144.0</text>
<text x="772.4" y="278.5" fill="#111" stroke="#111" stroke-width="0.28">142.0</text>
<text x="772.4" y="387.6" fill="#111" stroke="#111" stroke-width="0.28">140.0</text>
<text x="772.4" y="496.5" fill="#111" stroke="#111" stroke-width="0.28">138.0</text>
<text x="722.3" y="34.5" fill="#2fcf2f" stroke="#2fcf2f" stroke-width="0.28">146.6</text>
<text x="731" y="285.6" fill="#2222ff" stroke="#2222ff" stroke-width="0.28">142</text>
<text x="722.3" y="328.8" fill="#44cc44" stroke="#44cc44" stroke-width="0.28">141.2</text>
<line x1="5.50" y1="597" x2="5.50" y2="603.6" stroke="#222" stroke-width="1.15"/>
<text x="8.90" y="607.6" fill="#111" stroke="#111" stroke-width="0.28" font-size="10.35">18.05.2012</text>
<line x1="82.00" y1="597" x2="82.00" y2="603.6" stroke="#222" stroke-width="1.15"/>
<text x="85.40" y="607.6" fill="#111" stroke="#111" stroke-width="0.28" font-size="10.35">11h</text>
<line x1="158.85" y1="597" x2="158.85" y2="603.6" stroke="#222" stroke-width="1.15"/>
<text x="162.25" y="607.6" fill="#111" stroke="#111" stroke-width="0.28" font-size="10.35">12h</text>
<line x1="235.70" y1="597" x2="235.70" y2="603.6" stroke="#222" stroke-width="1.15"/>
<text x="239.10" y="607.6" fill="#111" stroke="#111" stroke-width="0.28" font-size="10.35">13h</text>
<line x1="312.55" y1="597" x2="312.55" y2="603.6" stroke="#222" stroke-width="1.15"/>
<text x="315.95" y="607.6" fill="#111" stroke="#111" stroke-width="0.28" font-size="10.35">14h</text>
<line x1="389.40" y1="597" x2="389.40" y2="603.6" stroke="#222" stroke-width="1.15"/>
<text x="392.80" y="607.6" fill="#111" stroke="#111" stroke-width="0.28" font-size="10.35">15h</text>
<line x1="466.25" y1="597" x2="466.25" y2="603.6" stroke="#222" stroke-width="1.15"/>
<text x="469.65" y="607.6" fill="#111" stroke="#111" stroke-width="0.28" font-size="10.35">16h</text>
<line x1="542.60" y1="597" x2="542.60" y2="603.6" stroke="#222" stroke-width="1.15"/>
<text x="546.00" y="607.6" fill="#111" stroke="#111" stroke-width="0.28" font-size="10.35">17h</text>
<line x1="620.00" y1="597" x2="620.00" y2="603.6" stroke="#222" stroke-width="1.15"/>
<text x="623.40" y="607.6" fill="#111" stroke="#111" stroke-width="0.28" font-size="10.35">18h</text>
<text x="37" y="294.7" fill="#2a2ab0" stroke="#2a2ab0" stroke-width="0.28">261.8%</text><text x="171.8" y="294.5" fill="#2222cc" stroke="#2222cc" stroke-width="0.28">141.82</text>
<text x="37.3" y="393.4" fill="#22e822" stroke="#22e822" stroke-width="0.28">161.8%</text><text x="171.8" y="393.2" fill="#22e822" stroke="#22e822" stroke-width="0.28">140.01</text>
<text x="37.3" y="427.2" fill="#40dcc8" stroke="#40dcc8" stroke-width="0.28">127.2%</text><text x="171.8" y="427.2" fill="#40dcc8" stroke="#40dcc8" stroke-width="0.28">139.39</text>
<text x="37.3" y="453.7" fill="#ffc0d0" stroke="#ffc0d0" stroke-width="0.28">100.0%</text><text x="171.8" y="453.7" fill="#ffc0d0" stroke="#ffc0d0" stroke-width="0.28">138.90</text>
<text x="37" y="552.5" fill="#ffb8c8" stroke="#ffb8c8" stroke-width="0.28">0.0%</text><text x="171.8" y="552.5" fill="#ffb8c8" stroke="#ffb8c8" stroke-width="0.28">137.09</text>
<rect x="750.30" y="190.20" width="40.40" height="12.00" fill="#6c6c6c" stroke="#9a9a9a" stroke-width="1"/><text x="753.50" y="199.90" fill="#000" stroke="#000" stroke-width="0.28">143.218</text>
<rect x="750.30" y="204.40" width="40.40" height="12.00" fill="#6c6c6c" stroke="#9a9a9a" stroke-width="1"/><text x="753.50" y="214.10" fill="#000" stroke="#000" stroke-width="0.28">143.204</text>
<rect x="750.30" y="277.00" width="40.40" height="11.80" fill="#747474" stroke="#9a9a9a" stroke-width="1"/><text x="753.50" y="286.70" fill="#000" stroke="#000" stroke-width="0.28">141.654</text>
<rect x="750.30" y="291.20" width="40.40" height="11.80" fill="#747474" stroke="#9a9a9a" stroke-width="1"/><text x="753.50" y="300.90" fill="#000" stroke="#000" stroke-width="0.28">141.611</text>
<rect x="750.00" y="364.50" width="40.70" height="12.50" fill="#1b8c1b"/><text x="753.20" y="374.20" fill="#fff" stroke="#fff" stroke-width="0.28">140.105</text>
<rect x="750.00" y="378.20" width="40.70" height="12.50" fill="#ff6a28"/><text x="753.20" y="387.90" fill="#000" stroke="#000" stroke-width="0.28">140.004</text>
<rect x="750.30" y="452.20" width="40.40" height="12.00" fill="#8a8a8a" stroke="#b0b0b0" stroke-width="1"/><text x="753.50" y="461.90" fill="#000" stroke="#000" stroke-width="0.28">138.556</text>
<rect x="750.30" y="466.00" width="40.40" height="11.80" fill="#8a8a8a" stroke="#b0b0b0" stroke-width="1"/><text x="753.50" y="475.70" fill="#000" stroke="#000" stroke-width="0.28">138.396</text>
<rect x="750.00" y="479.80" width="28.70" height="12.20" fill="#000"/><text x="753.20" y="489.50" fill="#fff" stroke="#fff" stroke-width="0.28">138.3</text>
<rect x="750.00" y="493.40" width="28.70" height="12.00" fill="#000"/><text x="753.20" y="503.10" fill="#fff" stroke="#fff" stroke-width="0.28">138.3</text>
<rect x="750.00" y="507.00" width="28.70" height="12.00" fill="#000"/><text x="753.20" y="516.70" fill="#fff" stroke="#fff" stroke-width="0.28">138.3</text>
<rect x="750.30" y="541.50" width="40.40" height="12.00" fill="#686868" stroke="#999" stroke-width="1"/><text x="753.50" y="551.20" fill="#000" stroke="#000" stroke-width="0.28">137.007</text>
<rect x="750.30" y="555.50" width="40.40" height="11.60" fill="#686868" stroke="#999" stroke-width="1"/><text x="753.50" y="565.20" fill="#000" stroke="#000" stroke-width="0.28">136.789</text>
<rect x="750.30" y="579.00" width="40.40" height="12.00" fill="#c8c8c8"/><text x="753.50" y="588.70" fill="#000" stroke="#000" stroke-width="0.28">0.00000</text>
<g class="bigs"><g transform="translate(12.50 574.70) scale(0.01426 -0.01426)"><path d="M1105 0 L854 0 L854 1096 Q779 1024 657 952 Q536 880 439 844 L439 1062 Q613 1144 743 1260 Q873 1377 927 1487 L1105 1487 Z" class="" vector-effect="non-scaling-stroke"/></g></g>
<g transform="translate(10.30 572.30) scale(0.01426 -0.01426)"><path d="M1105 0 L854 0 L854 1096 Q779 1024 657 952 Q536 880 439 844 L439 1062 Q613 1144 743 1260 Q873 1377 927 1487 L1105 1487 Z" class="big" vector-effect="non-scaling-stroke"/></g>
<text class="bigs" x="22.8" y="439.6">2</text>
<text class="big" x="20.6" y="437.2">2</text>
<text class="bigs" x="60.6" y="541.4">3</text>
<text class="big" x="58.4" y="539.0">3</text>
</svg></body></html>
